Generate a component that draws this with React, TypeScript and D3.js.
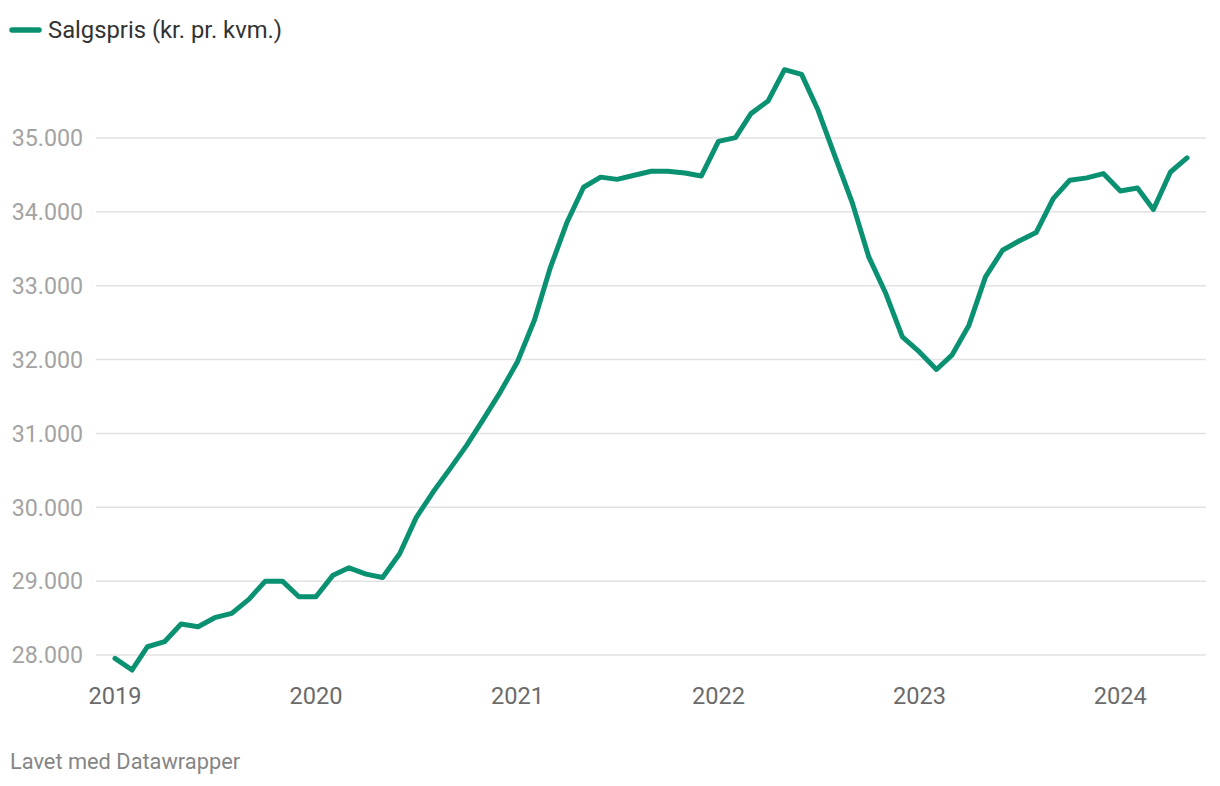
import React from "react";
import * as d3 from "d3";

const seriesName = "Salgspris (kr. pr. kvm.)";
const startMonth = "2019-01";
const values: number[] = [
  27955, 27797, 28112, 28180, 28420, 28383, 28505, 28564, 28753, 29000, 29000, 28788,
  28788, 29081, 29180, 29095, 29050, 29370, 29860, 30210, 30527, 30842, 31203, 31563,
  31970, 32540, 33230, 33860, 34333, 34470, 34440, 34495, 34550, 34550, 34525, 34486,
  34955, 35005, 35330, 35500, 35925, 35862, 35375, 34743, 34125, 33390, 32894, 32307,
  32104, 31866, 32060, 32466, 33119, 33480, 33606, 33720, 34180, 34428, 34460, 34518,
  34283, 34324, 34032, 34540, 34730,
];
const yTicks = [28000, 29000, 30000, 31000, 32000, 33000, 34000, 35000];
const xTickYears = [2019, 2020, 2021, 2022, 2023, 2024];
const footer = "Lavet med Datawrapper";

const W = 1220;
const H = 786;
const COLOR = "#0a9172";
const FONT = "Roboto, 'Noto Sans', sans-serif";

export default function App() {
  const parse = d3.timeParse("%Y-%m");
  const start = parse(startMonth) as Date;
  const dates = values.map((_, i) => d3.timeMonth.offset(start, i));
  const data = values.map((v, i) => ({ date: dates[i], value: v }));

  const x = d3
    .scaleTime()
    .domain([dates[0], dates[dates.length - 1]])
    .range([115, 1187]);
  const y = d3.scaleLinear().domain([28000, 35000]).range([655, 138]);

  const line = d3
    .line<{ date: Date; value: number }>()
    .x((d) => x(d.date))
    .y((d) => y(d.value));

  const fmt = (v: number) => d3.format(",")(v).replace(/,/g, ".");

  return (
    <svg
      width={W}
      height={H}
      style={{ position: "absolute", left: 0, top: 0, background: "#fff" }}
      fontFamily={FONT}
    >
      <rect x={0} y={0} width={W} height={H} fill="#fff" />
      {/* legend */}
      <line x1={12} x2={39} y1={30} y2={30} stroke={COLOR} strokeWidth={5.5} strokeLinecap="round" />
      <text x={48} y={37.5} fontSize={23.8} fill="#333">
        {seriesName}
      </text>
      {/* gridlines */}
      {yTicks.map((t) => (
        <g key={t}>
          <line x1={96} x2={1206} y1={y(t)} y2={y(t)} stroke="#e2e2e2" strokeWidth={1.5} />
          <text x={83} y={y(t)} dy="0.36em" textAnchor="end" fontSize={23.2} fill="#a3a3a3">
            {fmt(t)}
          </text>
        </g>
      ))}
      {/* x labels */}
      {xTickYears.map((yr) => (
        <text
          key={yr}
          x={x(new Date(yr, 0, 1))}
          y={703.5}
          textAnchor="middle"
          fontSize={23.6}
          fill="#6b6b6b"
        >
          {yr}
        </text>
      ))}
      <path
        d={line(data) || ""}
        fill="none"
        stroke={COLOR}
        strokeWidth={5}
        strokeLinejoin="round"
        strokeLinecap="round"
      />
      <text x={10} y={769} fontSize={21.8} fill="#858585">
        {footer}
      </text>
    </svg>
  );
}
